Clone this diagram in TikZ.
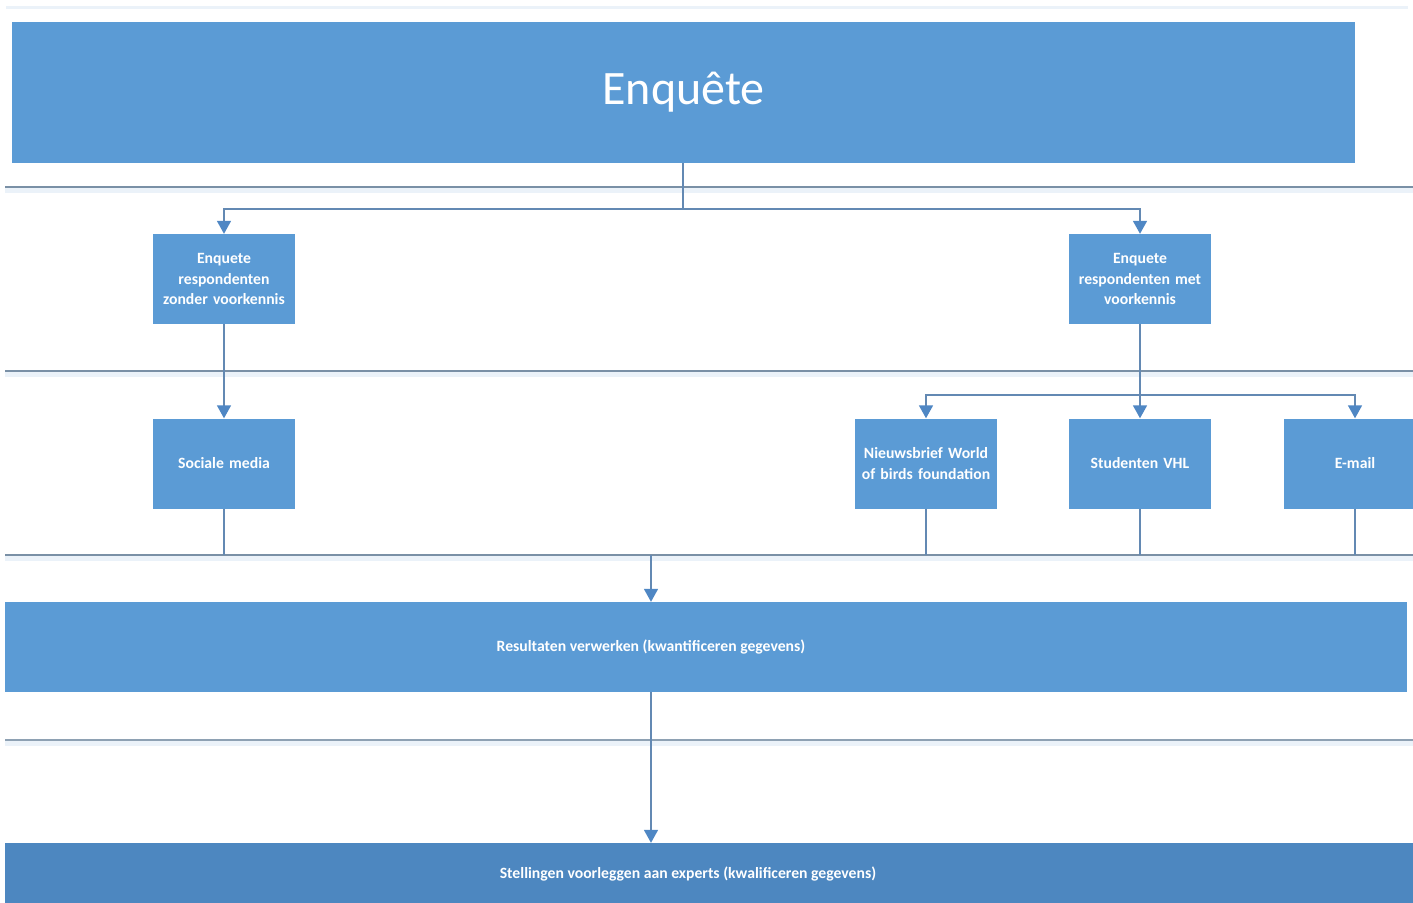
\documentclass[tikz,border=0pt]{standalone}
\usepackage{fontspec}
\setmainfont{Carlito}
\usetikzlibrary{arrows.meta}
\definecolor{boxblue}{HTML}{5B9BD5}
\definecolor{darkblue}{HTML}{4D87C0}
\definecolor{sepline}{HTML}{7A90A6}
\definecolor{sepglow}{HTML}{EBF2F9}
\definecolor{conn}{HTML}{6389B3}
\definecolor{tipblue}{HTML}{4F87C4}
\tikzset{
  box/.style={draw=none, fill=boxblue, text=white, align=center, inner sep=0pt,
    font=\fontsize{15.7}{20.5}\selectfont\bfseries},
  smallbox/.style={box, minimum width=142pt, minimum height=90pt, text width=138pt},
  conline/.style={draw=conn, line width=1.6pt},
  arr/.style={conline, -{Triangle[width=14pt,length=13pt,fill=tipblue,color=tipblue]}},
  sep/.style={draw=sepline, line width=2.4pt},
  glow/.style={draw=sepglow, line width=7pt},
}
\begin{document}
\begin{tikzpicture}[x=1pt,y=-1pt]
\useasboundingbox (0,0) rectangle (1413,902);
\fill[white] (0,0) rectangle (1413,902);
\clip (5,0) rectangle (1413,902);
% faint top line
\draw[draw=sepglow, line width=3pt] (6,7) -- (1408,7);
% separators (swimlanes)
\foreach \yy in {189.5,373.5,557.5,742.5} {\draw[glow] (5,\yy) -- (1413,\yy);}
\draw[sep] (5,187) -- (1413,187);
\draw[sep] (5,371) -- (1413,371);
\draw[sep] (5,555) -- (1413,555);
\draw[sep, draw=sepline!85] (5,740) -- (1413,740);
% nodes
\node[box, minimum width=1343pt, minimum height=141pt, font=\fontsize{48}{56}\selectfont] (enq) at (683.5,92.5) {\raisebox{-3pt}{Enquête}};
\node[smallbox] (zonder) at (224,279) {Enquete\\respondenten\\zonder voorkennis};
\node[smallbox] (met) at (1140,279) {Enquete\\respondenten met\\voorkennis};
\node[smallbox] (soc) at (224,463.5) {Sociale media};
\node[smallbox] (nieuws) at (926,463.5) {Nieuwsbrief World\\of birds foundation};
\node[smallbox] (stud) at (1140,463.5) {Studenten VHL};
\node[smallbox] (mail) at (1355,463.5) {E-mail};
\node[box, minimum width=1512pt, minimum height=90pt] (res) at (651,647) {Resultaten verwerken (kwantificeren gegevens)};
\node[box, fill=darkblue, minimum width=1600pt, minimum height=62pt] (stel) at (688,874) {Stellingen voorleggen aan experts (kwalificeren gegevens)};
% connectors
\coordinate (split1) at (683,209);
\coordinate (split2) at (1140,395);
\coordinate (merge) at (651,555);
\draw[conline] (enq.south -| split1) -- (split1);
\draw[arr] (split1) -| (zonder.north);
\draw[arr] (split1) -| (met.north);
\draw[arr] (zonder.south) -- (soc.north);
\draw[conline] (met.south) -- (split2);
\draw[arr] (split2) -| (nieuws.north);
\draw[arr] (split2) -- (stud.north);
\draw[arr] (split2) -| (mail.north);
\draw[conline] (soc.south) -- (soc.south |- merge);
\draw[conline] (nieuws.south) -- (nieuws.south |- merge);
\draw[conline] (stud.south) -- (stud.south |- merge);
\draw[conline] (mail.south) -- (mail.south |- merge);
\draw[arr] (merge) -- (merge |- res.north);
\draw[arr] (res.south -| merge) -- (merge |- stel.north);
\end{tikzpicture}
\end{document}
